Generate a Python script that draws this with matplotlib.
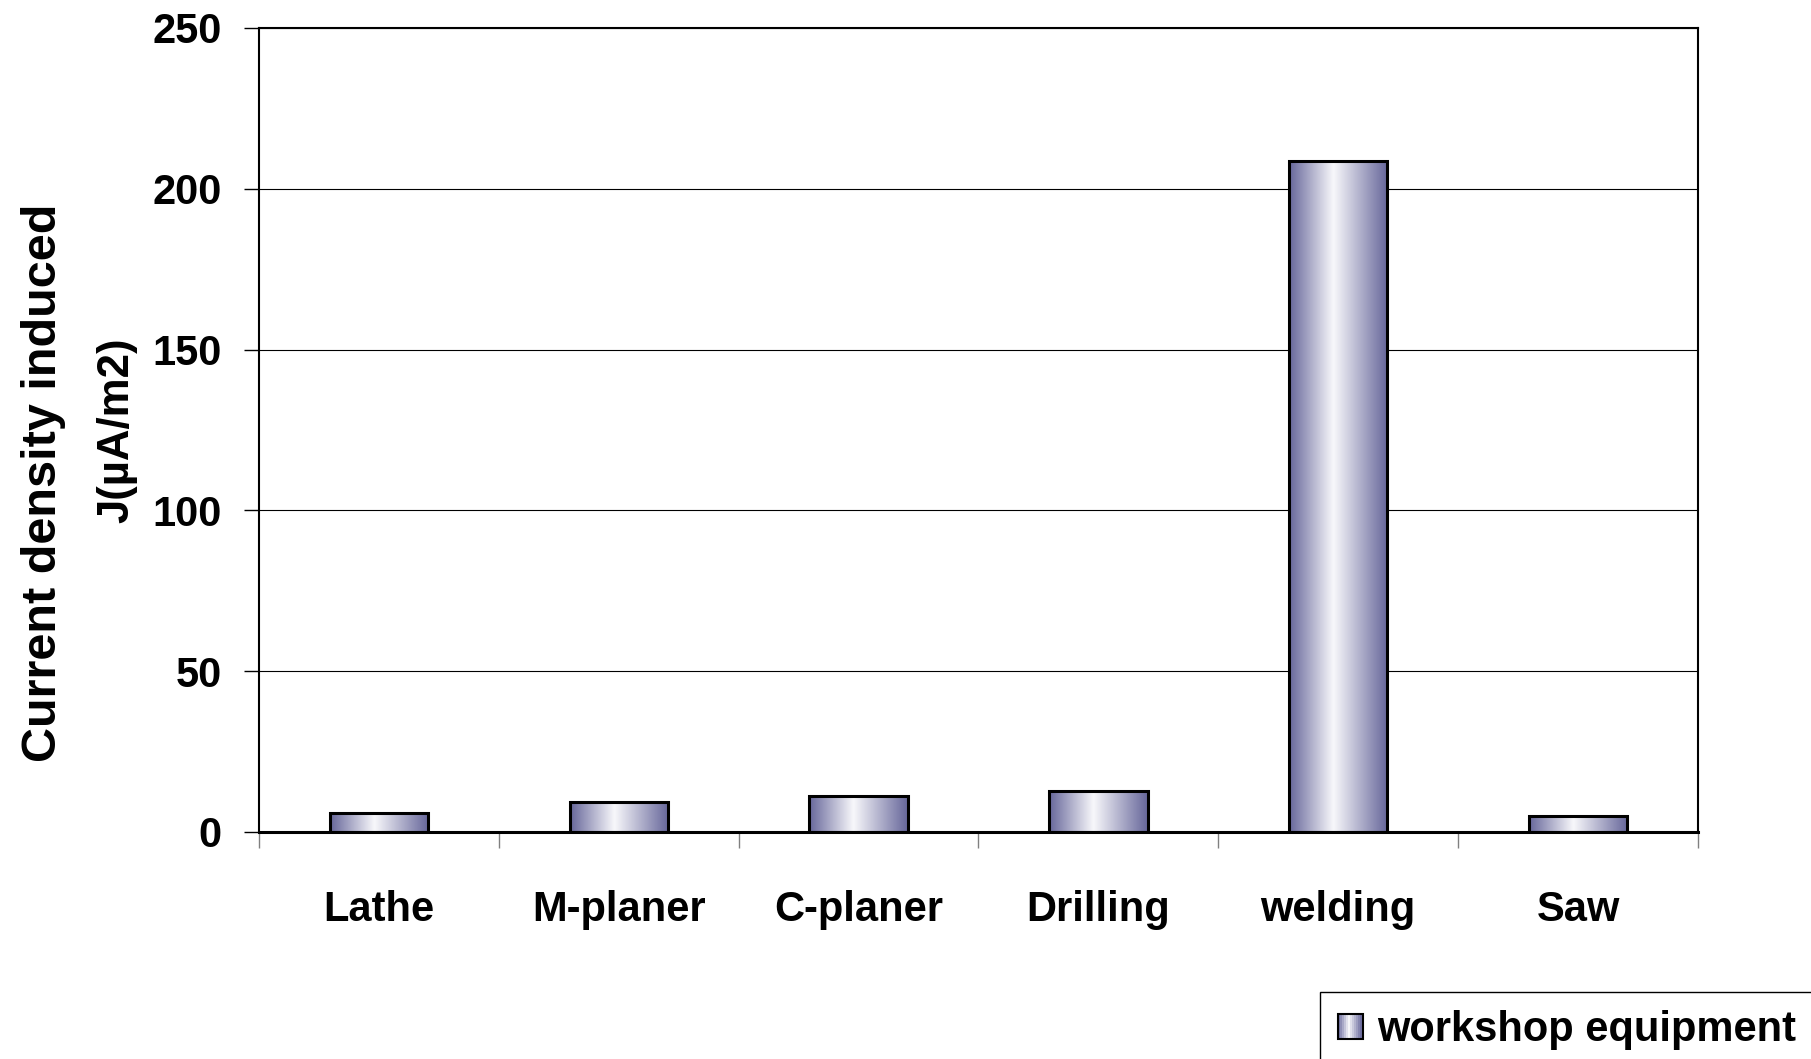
import numpy as np
import matplotlib
matplotlib.use('Agg')
import matplotlib.pyplot as plt
from matplotlib.colors import LinearSegmentedColormap
from matplotlib.patches import Rectangle
from matplotlib.legend_handler import HandlerBase

# data
categories = ['Lathe', 'M-planer', 'C-planer', 'Drilling', 'welding', 'Saw']
values = [5.9, 9.2, 11.1, 12.7, 208.6, 4.9]
yticks = [0, 50, 100, 150, 200, 250]
series_name = 'workshop equipment'
ylabel_top = 'Current density induced'
ylabel_unit = 'J(µA/m2)'

plt.rcParams['font.family'] = ['Liberation Sans', 'DejaVu Sans']
plt.rcParams['font.weight'] = 'bold'

# Excel-like horizontal shading: dark edges, white centre
shade = LinearSegmentedColormap.from_list(
    'shade', [(0.0, '#66669a'), (0.45, '#f8f8fb'), (1.0, '#66669a')])


class GradientHandler(HandlerBase):
    # draws the legend key as a small shaded square
    def create_artists(self, legend, orig_handle, xdescent, ydescent,
                       width, height, fontsize, trans):
        side = min(width, height)
        n = 12
        artists = []
        for i in range(n):
            artists.append(Rectangle((-xdescent + i * side / n, -ydescent), side / n, side,
                                     facecolor=shade((i + 0.5) / n), edgecolor='none',
                                     transform=trans))
        artists.append(Rectangle((-xdescent, -ydescent), side, side, facecolor='none',
                                 edgecolor='black', linewidth=1.5, transform=trans))
        return artists


fig = plt.figure(figsize=(18.11, 10.59), dpi=100)
ax = fig.add_axes([0.143, 0.2144, 0.7946, 0.7592])

x = np.arange(len(categories))
width = 0.41
grad = np.linspace(0, 1, 256).reshape(1, -1)
for xi, v in zip(x, values):
    ax.imshow(grad, cmap=shade, aspect='auto', interpolation='bilinear',
              extent=(xi - width / 2, xi + width / 2, 0, v), zorder=2)
ax.bar(x, values, width, facecolor='none', edgecolor='black', linewidth=2.2, zorder=3)

ax.set_xlim(-0.5, len(categories) - 0.5)
ax.set_ylim(0, 250)

ax.set_yticks(yticks)
ax.yaxis.grid(True, color='black', linewidth=0.8)
ax.set_axisbelow(True)

# ticks on category boundaries, labels in the middle
ax.set_xticks(np.arange(-0.5, len(categories), 1))
ax.set_xticklabels([])
ax.set_xticks(x, minor=True)
ax.set_xticklabels(categories, minor=True)
ax.tick_params(axis='x', which='major', length=11.5, width=1, color='#808080')
ax.tick_params(axis='x', which='minor', length=0, pad=42, labelsize=30)
ax.tick_params(axis='y', length=10.8, width=1, pad=16, labelsize=30)

for side in ['left', 'right', 'top']:
    ax.spines[side].set_linewidth(1.5)
ax.spines['bottom'].set_linewidth(2.2)

# the two label lines are not centred on each other in the original
fig.text(44 / 1811, 1 - 483 / 1059, ylabel_top, rotation=90, ha='center', va='center',
         fontsize=35, fontweight='bold')
fig.text(117 / 1811, 1 - 430 / 1059, ylabel_unit, rotation=90, ha='center', va='center',
         fontsize=31.5, fontweight='bold')

proxy = Rectangle((0, 0), 1, 1)
leg = fig.legend([proxy], [series_name], handler_map={proxy: GradientHandler()},
                 loc='upper left', bbox_to_anchor=(1320 / 1811, 1 - 992 / 1059),
                 fancybox=False, edgecolor='black', framealpha=1,
                 handlelength=0.6, handleheight=0.6, handletextpad=0.35,
                 borderpad=0.42, borderaxespad=0, prop={'size': 30, 'weight': 'bold'})
leg.get_frame().set_linewidth(1)

fig.savefig('out.png', dpi=100)
